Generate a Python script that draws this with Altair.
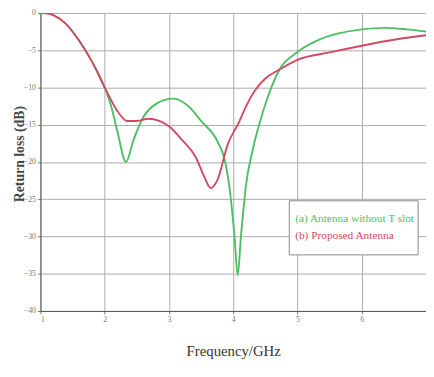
import altair as alt
import pandas as pd

freq_a = [1.0, 1.1, 1.2, 1.4, 1.6, 1.8, 2.0, 2.1, 2.2, 2.33, 2.45, 2.6, 2.8, 3.07, 3.3, 3.5,
          3.77, 3.87, 3.95, 4.02, 4.07, 4.12, 4.2, 4.3, 4.48, 4.72, 4.99, 5.36, 6.0, 6.37, 6.7, 7.0]
rl_a = [0.0, -0.05, -0.3, -1.5, -3.7, -6.5, -10.0, -12.5, -16.0, -20.0, -17.0, -14.0, -12.2, -11.5,
        -12.5, -14.5, -17.5, -19.8, -24.0, -30.0, -35.2, -30.0, -23.0, -18.5, -12.8, -7.6, -5.3,
        -3.5, -2.2, -2.0, -2.2, -2.5]

freq_b = [1.0, 1.1, 1.2, 1.4, 1.6, 1.8, 2.0, 2.2, 2.35, 2.5, 2.68, 2.85, 3.0, 3.2, 3.42, 3.55,
          3.65, 3.75, 3.92, 4.07, 4.23, 4.33, 4.5, 4.72, 5.0, 5.5, 6.0, 6.5, 7.0]
rl_b = [0.0, -0.05, -0.3, -1.5, -3.7, -6.5, -10.0, -13.2, -14.5, -14.5, -14.2, -14.5, -15.2, -17.0,
        -19.4, -22.0, -23.5, -22.5, -17.5, -15.0, -12.0, -10.5, -8.8, -7.6, -6.3, -5.3, -4.4,
        -3.6, -3.0]

series = ["(a) Antenna without T slot", "(b) Proposed Antenna"]
colors = ["#4cbf63", "#d04a63"]

x_ticks = [1, 2, 3, 4, 5, 6]
y_ticks = [0, -5, -10, -15, -20, -25, -30, -35, -40]

df = pd.concat([
    pd.DataFrame({"f": freq_a, "rl": rl_a, "s": series[0]}),
    pd.DataFrame({"f": freq_b, "rl": rl_b, "s": series[1]}),
])

W, H = 392, 303

lines = alt.Chart(df).mark_line(interpolate="monotone", strokeWidth=1.9, clip=True).encode(
    x=alt.X("f:Q", scale=alt.Scale(domain=[1, 7], nice=False),
            axis=alt.Axis(values=x_ticks, title="Frequency/GHz", grid=True,
                          titleFont="Liberation Serif", titleFontSize=15, titleFontWeight="normal",
                          titleColor="#333", titlePadding=20,
                          labelFont="Liberation Serif", labelFontSize=8, labelColor="#777",
                          tickSize=3, tickColor="#777", domainColor="#555", gridColor="#aaa")),
    y=alt.Y("rl:Q", scale=alt.Scale(domain=[-40, 0], nice=False),
            axis=alt.Axis(values=y_ticks, title="Return loss (dB)", grid=True,
                          titleFont="Liberation Serif", titleFontSize=14, titleFontWeight="bold",
                          titleColor="#444", titleX=-14, titleY=143, titleAngle=270,
                          titleBaseline="bottom", titleAlign="center",
                          labelFont="Liberation Serif", labelFontSize=8, labelColor="#777",
                          labelPadding=2,
                          tickSize=3, tickColor="#777", domainColor="#555", gridColor="#aaa")),
    color=alt.Color("s:N", scale=alt.Scale(domain=series, range=colors), legend=None),
)

box = alt.Chart(pd.DataFrame({"a": [0]})).mark_rect(
    fill="white", stroke="#888", strokeWidth=1
).encode(x=alt.value(253), x2=alt.value(384), y=alt.value(191), y2=alt.value(246))

leg_a = alt.Chart(pd.DataFrame({"t": [series[0]]})).mark_text(
    align="left", baseline="middle", font="Liberation Serif", fontSize=11.5, color=colors[0]
).encode(text="t:N", x=alt.value(259), y=alt.value(210))

leg_b = alt.Chart(pd.DataFrame({"t": [series[1]]})).mark_text(
    align="left", baseline="middle", font="Liberation Serif", fontSize=11.5, color=colors[1]
).encode(text="t:N", x=alt.value(259), y=alt.value(227))

chart = alt.layer(lines, box, leg_a, leg_b).properties(
    width=W, height=H,
    autosize=alt.AutoSizeParams(type="none"),
    padding={"left": 33, "top": 2, "right": 0, "bottom": 56},
    background="white",
).configure_view(stroke=None)

chart.save("out.html", embed_options={"renderer": "svg", "actions": False})
